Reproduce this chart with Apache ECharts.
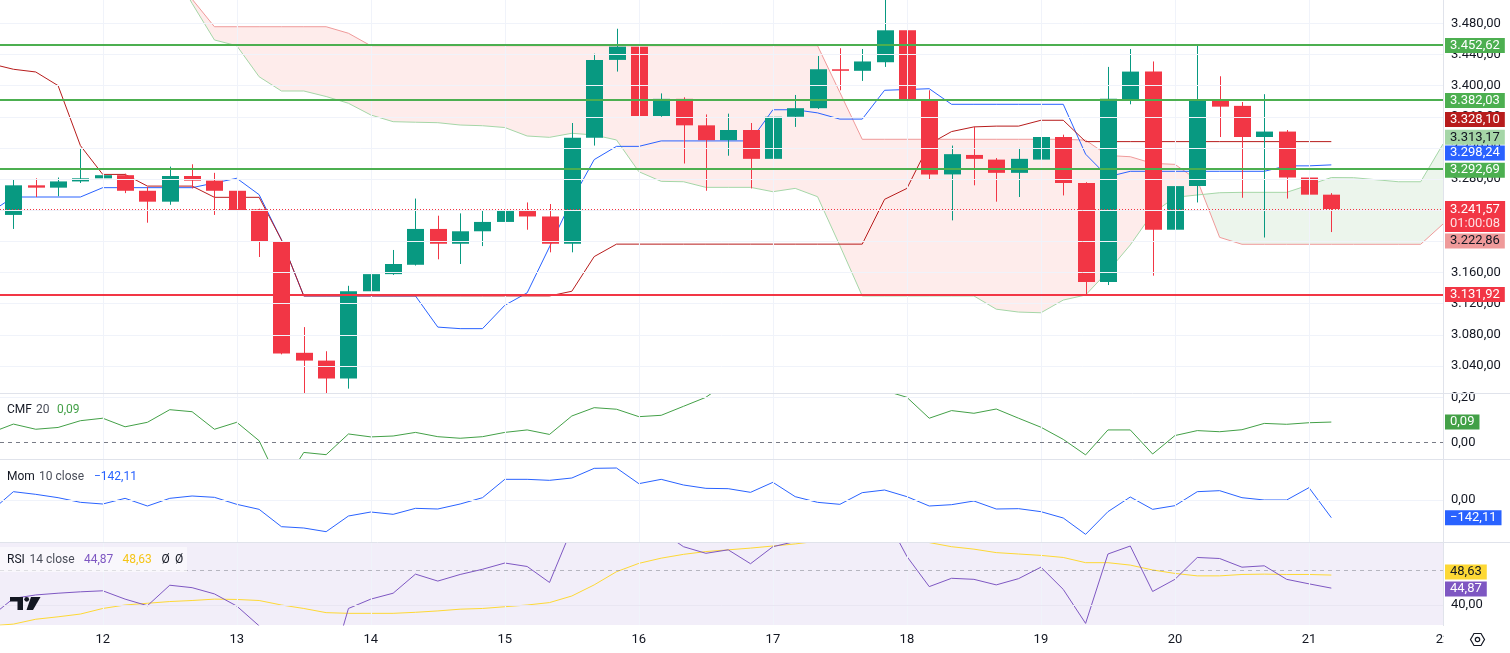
<!DOCTYPE html>
<html>
<head>
<meta charset="utf-8">
<script src="https://cdn.jsdelivr.net/npm/echarts@6/dist/echarts.min.js"></script>
<style>html,body{margin:0;padding:0;background:#fff}#c{width:1510px;height:653px}</style>
</head>
<body>
<div id="c"></div>
<script>
// ---------------- DATA (4h bars, bar 0 = 11th 08:00) ----------------
const opens  = [3234,3272,3269,3277,3281,3285,3265,3251,3284,3278, 3265,3241,3200,3057,3047,3024,3136,3158,3170,3216,
                3197,3213,3225,3239,3232,3197,3333,3433,3450,3361, 3383,3349,3330,3343,3306,3360,3371,3421,3419,3430,
                3471,3382,3286,3311,3305,3288,3305,3334,3275,3148, 3382,3418,3215,3271,3382,3374,3334,3341,3282,3260];
const highs  = [3279,3281,3282,3319,3289,3287,3270,3296,3299,3288, 3338,3242,3201,3090,3059,3143,3174,3189,3255,3233,
                3236,3239,3245,3250,3248,3352,3441,3473,3459,3390, 3385,3363,3364,3352,3395,3388,3438,3448,3447,3527,
                3493,3394,3323,3347,3307,3320,3376,3337,3276,3424, 3447,3431,3280,3452,3412,3379,3389,3343,3289,3262];
const lows   = [3216,3257,3258,3275,3273,3262,3224,3247,3268,3234, 3236,3180,3055,2921,2981,3011,3126,3157,3169,3177,
                3171,3194,3206,3215,3186,3186,3323,3418,3345,3360, 3300,3265,3310,3268,3305,3347,3370,3394,3406,3424,
                3366,3280,3227,3272,3251,3257,3299,3259,3131,3144, 3376,3156,3142,3250,3334,3256,3205,3255,3203,3212];
const closes = [3272,3269,3277,3281,3285,3265,3251,3284,3278,3265, 3240,3200,3056,3047,3024,3136,3158,3171,3216,3197,
                3213,3225,3239,3232,3197,3333,3433,3450,3361,3383, 3349,3330,3343,3306,3360,3371,3421,3419,3431,3471,
                3382,3286,3312,3306,3288,3306,3334,3275,3148,3383, 3418,3215,3271,3382,3373,3334,3341,3282,3260,3241.57];
const CANDLE_START = 0;

// Ichimoku lines (start at bar -1, just left of the view)
const LINE_START = -1;
const tenkan = [3238, 3257,3257,3257,3257,3269,3269,3269,3269,3269,3275, 3281,3260,3202,3130,3130,3130,3130,3130,3130,3090,
                3088,3088,3118,3134,3193,3253,3305,3322,3322,3329, 3329,3329,3329,3329,3369,3369,3365,3357,3357,3394,
                3395,3396,3376,3376,3376,3376,3376,3376,3312,3283, 3290,3290,3290,3290,3290,3290,3290,3297,3297,3298.24];
const kijun  = [3428, 3421,3417.5,3400,3323,3286,3286,3271,3271,3271,3256.6, 3256.6,3256.6,3202,3130,3130,3130,3130,3130,3130,3130,
                3130,3130,3130,3130,3130,3136,3180.5,3196.5,3196.5,3196.5, 3196.5,3196.5,3196.5,3196.5,3196.5,3196.5,3196.5,3196.5,3196.5,3254,
                3268,3325,3341,3347,3348,3348,3355.5,3355.5,3328.1,3328.1, 3328.1,3328.1,3328.1,3328.1,3328.1,3328.1,3328.1,3328.1,3328.1,3328.1];
// Cloud (leading spans, bars 0..64)
const CLOUD_START = 0;
const spanA = [3610,3605,3600,3595,3590,3580,3570,3557,3505.5,3458.6, 3451.2,3411.4,3393.1,3393.1,3386,3377.3,3362.3,3353.7,3353,3352.4,
               3349.4,3348.5,3346.2,3335.3,3333.6,3338.8,3336.6,3330.2,3289.5,3277.1, 3276.6,3269.4,3269.4,3269.4,3263.8,3268.1,3257.4,3194.6,3130,3130,
               3130,3130,3130,3130,3113,3109.3,3108.4,3124.7,3131.2,3161.5, 3195.4,3236.1,3256.6,3259.6,3262.5,3263,3263,3263,3272.4,3282,
               3281.8,3279.2,3276.6,3276.6,3325];
const spanB = [3640,3640,3635,3630,3620,3610,3590,3570,3511,3475.6, 3475.6,3475.6,3475.6,3475.6,3475.6,3467.2,3451.2,3451.2,3451.2,3451.2,
               3451.2,3451.2,3451.2,3451.2,3451.2,3451.2,3451.2,3451.2,3451.2,3451.2, 3451.2,3451.2,3451.2,3451.2,3451.2,3451.2,3451.2,3391.2,3331.1,3331.1,
               3331.1,3331.1,3331.1,3331.1,3331.1,3331.1,3331.1,3331.1,3330,3310.3, 3308.7,3300.2,3298.9,3278.8,3205.2,3196.3,3196.3,3196.3,3196.3,3196.3,
               3196.3,3196.3,3196.3,3196.3,3222.3];
// Indicators (start at bar -1)
const cmf = [0.043, 0.081,0.058,0.066,0.096,0.107,0.069,0.089,0.145,0.136,0.058, 0.089,0.007,-0.2,-0.045,-0.055,0.037,0.024,0.028,0.044,0.025,
             0.018,0.025,0.044,0.055,0.035,0.117,0.154,0.147,0.114,0.12, 0.16,0.2,0.27,0.29,0.30,0.30,0.31,0.29,0.27,0.23,
             0.2,0.107,0.141,0.129,0.148,0.107,0.067,0.013,-0.056,0.055, 0.055,-0.052,0.03,0.052,0.047,0.056,0.084,0.08,0.087,0.09];
const mom = [-89, 66.9,45.5,18.7,-18.7,-32.1,13.4,-48.2,13.4,32.1,21.4, -34.8,-75,-214.2,-224.9,-254.4,-128.5,-96.4,-115.1,-66.9,-72.3,
             -32.1,18.7,166,166,158,176.7,254.4,257,131.2,166, 120.5,93.7,91,61.6,141.9,26.8,-18.7,-34.8,58.9,80.3,
             26.8,-48.2,-37.5,-8,-72.3,-69.6,-93.7,-144.6,-275.8,-93.7, 24.1,-75,-45.5,66.9,75,18.7,0,0,99.1,-142.11];
const rsi = [36.7, 41.9,42.9,43.4,43.8,44.1,41.7,39.8,45.7,45.0,43.2, 39.7,34.0,20,19,17,39.0,41.7,43.4,48.9,46.9,
             48.8,50.3,52.1,51.1,46.5,62,70,72,62,61.2, 56.8,54.9,55.9,51.9,56.8,58.3,63,62.5,63,66,
             54,45.3,47.7,47.4,45.8,47.6,50.9,44.5,34.7,54.7, 57,43.9,47.4,53.7,53.4,50.9,51.3,47.4,46.1,44.87];
const rsiMa = [34.0, 34.5,35.9,36.6,37.4,39.0,40.0,40.5,41.0,41.3,41.7, 41.6,41.3,40.0,39.0,37.8,37.6,37.6,37.6,37.9,38.3,
               38.8,39.0,39.5,40.0,40.7,42.6,45.8,49.6,52.0,53.5, 54.6,55.4,55.9,56.4,57.0,57.6,58.4,58.9,59.3,59.5,
               59.0,58.0,56.8,56.1,55.1,54.7,54.3,53.7,52.2,52.2, 51.5,50.1,49.1,48.4,48.4,48.8,48.9,48.8,48.8,48.63];

const dayLabels = ['12','13','14','15','16','17','18','19','20','21','22'];
const FIRST_DAY_BAR = 4, BARS_PER_DAY = 6;
const priceTicks = [3040,3080,3120,3160,3200,3240,3280,3320,3360,3400,3440,3480];
const cmfTicks = [0, 0.2];
const momTicks = [0];
const rsiTicks = [40];
const greenLevels = [3452.62, 3382.03, 3292.69];
const redLevels = [3131.92];
const lastPrice = 3241.57;
const countdown = '01:00:08';
const kijunLast = 3328.10, spanALast = 3313.17, spanBLast = 3222.86;

// ---------------- HELPERS ----------------
const FONT = 'Roboto, "Liberation Sans", sans-serif';
const TXT = '#131722';
const UP = '#089981', DOWN = '#f23645';
const GRIDC = '#f0f3fa';
const SCALE_FS = 13;
const dayIdx = dayLabels.map((d, k) => FIRST_DAY_BAR + BARS_PER_DAY * k);
const X_MIN = -0.6, X_MAX = 64;

function fmt(v) {
  const neg = v < 0;
  const s = Math.abs(v).toFixed(2).split('.');
  return (neg ? '\u2212' : '') + s[0].replace(/\B(?=(\d{3})+(?!\d))/g, '.') + ',' + s[1];
}
const pts = (arr, start) => arr.map((v, k) => [k + start, v]);

function box(val, text, bg, fg, dy) {
  return {
    yAxis: val,
    lineStyle: { color: 'rgba(0,0,0,0)', width: 0 },
    label: {
      show: true, position: 'end', distance: 2, formatter: text,
      backgroundColor: bg, color: fg, padding: [2, 5, 1, 5],
      fontSize: SCALE_FS, fontFamily: FONT, lineHeight: 12, offset: [0, dy || 0]
    }
  };
}
function hline(val, color, type, width) {
  return { yAxis: val, lineStyle: { color: color, type: type || 'solid', width: width || 1 }, label: { show: false } };
}
function vlines() { return dayIdx.map(v => ({ xAxis: v, lineStyle: { color: GRIDC, width: 1, type: 'solid' }, label: { show: false } })); }
function clipOf(params) {
  const cs = params.coordSys;
  return { type: 'rect', shape: { x: cs.x, y: cs.y, width: cs.width, height: cs.height } };
}

function renderCandle(params, api) {
  const x = api.value(0), o = api.value(1), c = api.value(2), l = api.value(3), h = api.value(4);
  const pO = api.coord([x, o]), pC = api.coord([x, c]), pH = api.coord([x, h]), pL = api.coord([x, l]);
  const bw = 17;
  const cx = Math.round(pO[0]) + 0.5;
  const col = c >= o ? UP : DOWN;
  const top = Math.min(pO[1], pC[1]);
  const ht = Math.max(Math.abs(pO[1] - pC[1]), 1.5);
  return {
    type: 'group', clipPath: clipOf(params),
    children: [
      { type: 'line', shape: { x1: cx, y1: pH[1], x2: cx, y2: pL[1] }, style: { stroke: col, lineWidth: 1 } },
      { type: 'rect', shape: { x: cx - bw / 2, y: top, width: bw, height: ht }, style: { fill: col } }
    ]
  };
}

function renderCloud(params, api) {
  if (params.dataIndex !== 0) return;
  const regions = [];
  let cur = null;
  for (let k = 0; k < spanA.length; k++) {
    const a = spanA[k], b = spanB[k], x = k + CLOUD_START;
    const sg = b >= a ? 1 : -1;
    if (cur && sg !== cur.sg) {
      const a0 = spanA[k - 1], b0 = spanB[k - 1];
      const t = (a0 - b0) / ((a0 - b0) - (a - b));
      const px = x - 1 + t, py = a0 + t * (a - a0);
      cur.up.push([px, py]); cur.lo.push([px, py]);
      regions.push(cur);
      cur = { sg: sg, up: [[px, py]], lo: [[px, py]] };
    }
    if (!cur) cur = { sg: sg, up: [], lo: [] };
    cur.up.push([x, b]); cur.lo.push([x, a]);
  }
  regions.push(cur);
  return {
    type: 'group', clipPath: clipOf(params),
    children: regions.map(r => ({
      type: 'polygon',
      shape: { points: r.up.concat(r.lo.slice().reverse()).map(p => api.coord(p)) },
      style: { fill: r.sg > 0 ? 'rgba(244,67,54,0.1)' : 'rgba(67,160,71,0.1)' }
    }))
  };
}

// ---------------- OPTION ----------------
const grids = [
  { left: 0, top: 0, width: 1443, height: 393 },
  { left: 0, top: 394, width: 1443, height: 65 },
  { left: 0, top: 460, width: 1443, height: 82 },
  { left: 0, top: 543, width: 1443, height: 82, show: true, backgroundColor: '#f2eef9', borderWidth: 0 }
];
const yRanges = [[3005.4, 3509.9], [-0.0742, 0.2147], [-337.3, 321.3], [34.24, 57.87]];
const yTicks = [priceTicks, cmfTicks, momTicks, rsiTicks];

const option = {
  animation: false,
  backgroundColor: '#ffffff',
  grid: grids,
  xAxis: grids.map((g, k) => ({
    type: 'value', gridIndex: k, min: X_MIN, max: X_MAX, show: k === 3,
    axisLine: { show: false }, axisTick: { show: false }, splitLine: { show: false },
    axisLabel: {
      show: k === 3, customValues: dayIdx,
      formatter: v => { const j = dayIdx.indexOf(Math.round(v)); return j >= 0 ? dayLabels[j] : ''; },
      color: TXT, fontSize: 13, fontFamily: FONT, margin: 8
    }
  })),
  yAxis: grids.map((g, k) => ({
    type: 'value', gridIndex: k, position: 'right', min: yRanges[k][0], max: yRanges[k][1],
    axisLine: { show: false }, axisTick: { show: false }, splitLine: { show: false },
    axisLabel: { customValues: yTicks[k], formatter: v => fmt(v), color: TXT, fontSize: SCALE_FS, fontFamily: FONT, margin: 8 }
  })),
  series: [
    // grid lines + span B
    {
      type: 'line', xAxisIndex: 0, yAxisIndex: 0, z: 1, data: pts(spanB, CLOUD_START),
      showSymbol: false, symbol: 'none', lineStyle: { color: '#ef9a9a', width: 1 },
      markLine: { silent: true, symbol: ['none', 'none'], animation: false,
        data: priceTicks.map(v => hline(v, GRIDC)).concat(vlines()) }
    },
    { type: 'custom', xAxisIndex: 0, yAxisIndex: 0, z: 1, renderItem: renderCloud,
      data: spanA.map((a, k) => [k + CLOUD_START, a, spanB[k]]), silent: true },
    { type: 'line', xAxisIndex: 0, yAxisIndex: 0, z: 2, data: pts(spanA, CLOUD_START),
      showSymbol: false, symbol: 'none', lineStyle: { color: '#a5d6a7', width: 1 } },
    { type: 'line', xAxisIndex: 0, yAxisIndex: 0, z: 3, data: pts(tenkan, LINE_START),
      showSymbol: false, symbol: 'none', lineStyle: { color: '#2962ff', width: 1 } },
    { type: 'line', xAxisIndex: 0, yAxisIndex: 0, z: 3, data: pts(kijun, LINE_START),
      showSymbol: false, symbol: 'none', lineStyle: { color: '#b71c1c', width: 1 } },
    { type: 'custom', xAxisIndex: 0, yAxisIndex: 0, z: 4, renderItem: renderCandle,
      data: opens.map((o, k) => [k + CANDLE_START, o, closes[k], lows[k], highs[k]]) },
    // drawn levels + price scale labels
    {
      type: 'line', xAxisIndex: 0, yAxisIndex: 0, z: 6, data: [],
      markLine: { silent: true, symbol: ['none', 'none'], animation: false,
        data: greenLevels.map(v => hline(v, '#4caf50', 'solid', 2))
          .concat(redLevels.map(v => hline(v, '#f23645', 'solid', 2)))
          .concat([hline(lastPrice, '#f23645', [1, 2], 1)])
          .concat(greenLevels.map(v => box(v, fmt(v), '#4caf50', '#ffffff', 1)))
          .concat(redLevels.map(v => box(v, fmt(v), '#f23645', '#ffffff', 0)))
          .concat([
            box(kijunLast, fmt(kijunLast), '#b71c1c', '#ffffff', -22),
            box(spanALast, fmt(spanALast), '#a5d6a7', TXT, -16),
            box(tenkan[tenkan.length - 1], fmt(tenkan[tenkan.length - 1]), '#2962ff', '#ffffff', -12),
            box(spanBLast, fmt(spanBLast), '#ef9a9a', TXT, 17.5),
            {
              yAxis: lastPrice, lineStyle: { color: 'rgba(0,0,0,0)', width: 0 },
              label: { show: true, position: 'end', distance: 2,
                formatter: '{a|' + fmt(lastPrice) + '}\n{b|' + countdown + '}',
                backgroundColor: '#f23645', padding: [2, 5, 1, 5], offset: [0, 7.5],
                rich: { a: { color: '#ffffff', fontSize: SCALE_FS, fontFamily: FONT, lineHeight: 14 },
                        b: { color: 'rgba(255,255,255,0.85)', fontSize: SCALE_FS, fontFamily: FONT, lineHeight: 14 } } }
            }
          ])
      }
    },
    // CMF
    {
      type: 'line', xAxisIndex: 1, yAxisIndex: 1, z: 3, data: pts(cmf, LINE_START),
      showSymbol: false, symbol: 'none', lineStyle: { color: '#43a047', width: 1 },
      markLine: { silent: true, symbol: ['none', 'none'], animation: false,
        data: vlines().concat([hline(0.2, GRIDC), hline(0, '#787b86', [4, 4], 1),
          box(cmf[cmf.length - 1], fmt(cmf[cmf.length - 1]), '#43a047', '#ffffff', 0)]) }
    },
    // Momentum
    {
      type: 'line', xAxisIndex: 2, yAxisIndex: 2, z: 3, data: pts(mom, LINE_START),
      showSymbol: false, symbol: 'none', lineStyle: { color: '#2962ff', width: 1 },
      markLine: { silent: true, symbol: ['none', 'none'], animation: false,
        data: vlines().concat([hline(0, GRIDC),
          box(mom[mom.length - 1], fmt(mom[mom.length - 1]), '#2962ff', '#ffffff', 0)]) }
    },
    // RSI
    {
      type: 'line', xAxisIndex: 3, yAxisIndex: 3, z: 3, data: pts(rsiMa, LINE_START),
      showSymbol: false, symbol: 'none', lineStyle: { color: '#fdd835', width: 1 },
      markLine: { silent: true, symbol: ['none', 'none'], animation: false,
        data: vlines().concat([hline(40, '#e9e6f2'), hline(50, 'rgba(120,123,134,0.5)', [4, 4], 1)]) }
    },
    {
      type: 'line', xAxisIndex: 3, yAxisIndex: 3, z: 4, data: pts(rsi, LINE_START),
      showSymbol: false, symbol: 'none', lineStyle: { color: '#7e57c2', width: 1 },
      markLine: { silent: true, symbol: ['none', 'none'], animation: false,
        data: [box(rsiMa[rsiMa.length - 1], fmt(rsiMa[rsiMa.length - 1]), '#fdd835', TXT, -3),
               box(rsi[rsi.length - 1], fmt(rsi[rsi.length - 1]), '#7e57c2', '#ffffff', 1)] }
    }
  ],
  graphic: [
    { type: 'line', z: 50, shape: { x1: 0, y1: 393.5, x2: 1510, y2: 393.5 }, style: { stroke: '#e0e3eb', lineWidth: 1 } },
    { type: 'line', z: 50, shape: { x1: 0, y1: 459.5, x2: 1510, y2: 459.5 }, style: { stroke: '#e0e3eb', lineWidth: 1 } },
    { type: 'line', z: 50, shape: { x1: 0, y1: 542.5, x2: 1510, y2: 542.5 }, style: { stroke: '#e0e3eb', lineWidth: 1 } },
    { type: 'line', z: 50, shape: { x1: 1443.5, y1: 0, x2: 1443.5, y2: 626 }, style: { stroke: '#e0e3eb', lineWidth: 1 } },
    { type: 'rect', z: 60, shape: { x: 1444, y: 627, width: 22, height: 24 }, style: { fill: '#ffffff' } },
    // legends
    { type: 'text', z: 70, style: { text: 'CMF', x: 7, y: 410, fill: TXT, font: '12px ' + FONT, verticalAlign: 'middle' } },
    { type: 'text', z: 70, style: { text: '20', x: 36, y: 410, fill: '#4a4e59', font: '12px ' + FONT, verticalAlign: 'middle' } },
    { type: 'text', z: 70, style: { text: fmt(cmf[cmf.length - 1]), x: 57, y: 410, fill: '#43a047', font: '12px ' + FONT, verticalAlign: 'middle' } },
    { type: 'text', z: 70, style: { text: 'Mom', x: 7, y: 477, fill: TXT, font: '12px ' + FONT, verticalAlign: 'middle' } },
    { type: 'text', z: 70, style: { text: '10 close', x: 39, y: 477, fill: '#4a4e59', font: '12px ' + FONT, verticalAlign: 'middle' } },
    { type: 'text', z: 70, style: { text: fmt(mom[mom.length - 1]), x: 94, y: 477, fill: '#2962ff', font: '12px ' + FONT, verticalAlign: 'middle' } },
    { type: 'rect', z: 65, shape: { x: 0, y: 547, width: 187, height: 25 }, style: { fill: 'rgba(255,255,255,0.55)' } },
    { type: 'text', z: 70, style: { text: 'RSI', x: 7, y: 560, fill: TXT, font: '12px ' + FONT, verticalAlign: 'middle' } },
    { type: 'text', z: 70, style: { text: '14 close', x: 29.5, y: 560, fill: '#4a4e59', font: '12px ' + FONT, verticalAlign: 'middle' } },
    { type: 'text', z: 70, style: { text: fmt(rsi[rsi.length - 1]), x: 84, y: 560, fill: '#7e57c2', font: '12px ' + FONT, verticalAlign: 'middle' } },
    { type: 'text', z: 70, style: { text: fmt(rsiMa[rsiMa.length - 1]), x: 122.5, y: 560, fill: '#f5c518', font: '12px ' + FONT, verticalAlign: 'middle' } },
    { type: 'text', z: 70, style: { text: '\u00d8', x: 161.5, y: 560, fill: TXT, font: '12px ' + FONT, verticalAlign: 'middle' } },
    { type: 'text', z: 70, style: { text: '\u00d8', x: 175, y: 560, fill: TXT, font: '12px ' + FONT, verticalAlign: 'middle' } },
    // TradingView logo
    { type: 'rect', z: 70, shape: { x: 10, y: 597, width: 13, height: 4.5 }, style: { fill: TXT } },
    { type: 'rect', z: 70, shape: { x: 17.5, y: 597, width: 5.5, height: 13 }, style: { fill: TXT } },
    { type: 'circle', z: 70, shape: { cx: 26.7, cy: 599.3, r: 2.4 }, style: { fill: TXT } },
    { type: 'polygon', z: 70, shape: { points: [[31, 597], [40.5, 597], [33, 610], [26.5, 610]] }, style: { fill: TXT } },
    // settings icon
    { type: 'polygon', z: 70, shape: { points: [[1470.5, 639.5], [1474, 633.5], [1481, 633.5], [1484.5, 639.5], [1481, 645.5], [1474, 645.5]] },
      style: { fill: 'none', stroke: TXT, lineWidth: 1.2 } },
    { type: 'circle', z: 70, shape: { cx: 1477.5, cy: 639.5, r: 2.2 }, style: { fill: 'none', stroke: TXT, lineWidth: 1.2 } }
  ]
};

const chart = echarts.init(document.getElementById('c'), null, { renderer: 'canvas' });
chart.setOption(option);
</script>
</body>
</html>
